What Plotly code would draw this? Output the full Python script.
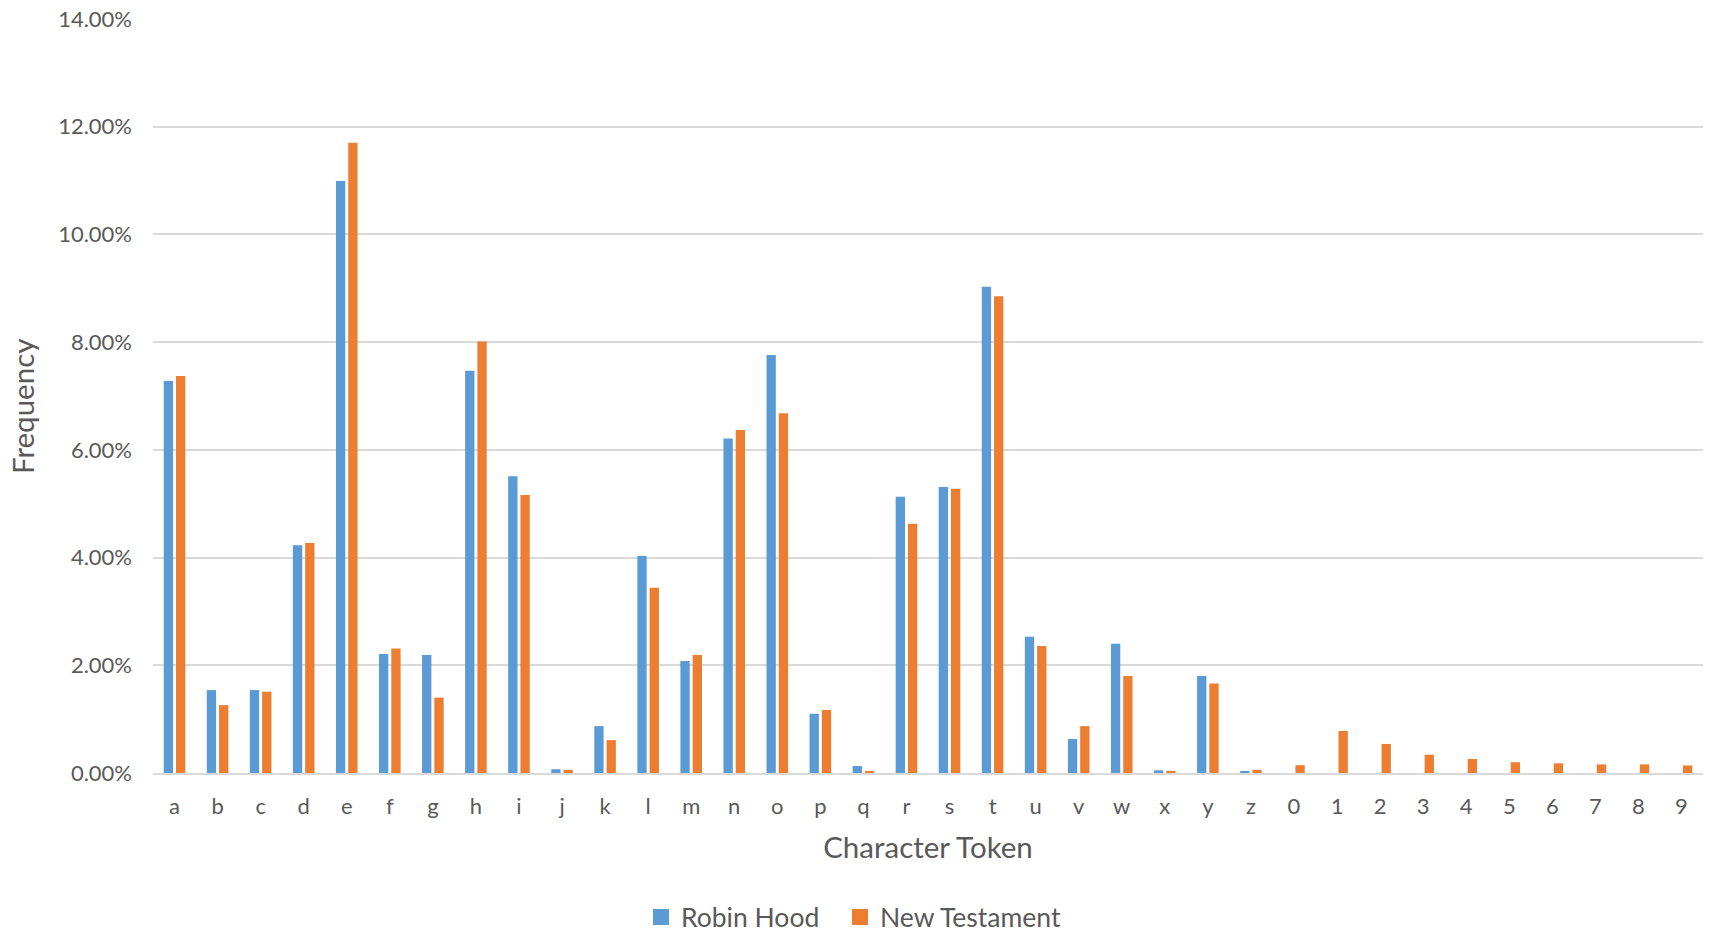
import plotly.graph_objects as go

# Character frequencies (fraction of all tokens) for two texts
tokens = list("abcdefghijklmnopqrstuvwxyz0123456789")

robin_hood = [
    0.0728, 0.0154, 0.0154, 0.0423, 0.1099, 0.0221, 0.0219, 0.0747, 0.0551,
    0.0007, 0.0087, 0.0403, 0.0208, 0.0621, 0.0776, 0.0110, 0.0013, 0.0513,
    0.0531, 0.0903, 0.0253, 0.0063, 0.0240, 0.0005, 0.0180, 0.0003,
    None, None, None, None, None, None, None, None, None, None,
]

new_testament = [
    0.0737, 0.0126, 0.0151, 0.0427, 0.1170, 0.0231, 0.0140, 0.0801, 0.0516,
    0.0006, 0.0061, 0.0344, 0.0219, 0.0637, 0.0668, 0.0117, 0.0003, 0.0463,
    0.0528, 0.0885, 0.0236, 0.0087, 0.0180, 0.0004, 0.0166, 0.0006,
    0.00145, 0.0078, 0.0054, 0.0034, 0.0026, 0.0020, 0.0018, 0.0016, 0.0016, 0.0014,
]

series_names = ["Robin Hood", "New Testament"]
colors = ["#5B9BD5", "#ED7D31"]
legend_ids = ["legend", "legend2"]

FONT = "Lato"
TEXT = "#595959"
GRID = "#D9D9D9"
W, H = 1709, 937

fig = go.Figure()
for name, vals, col, lg in zip(series_names, [robin_hood, new_testament], colors, legend_ids):
    fig.add_trace(go.Bar(
        x=tokens, y=vals, name=name,
        marker=dict(color=col, line=dict(width=0)),
        showlegend=False,
    ))
    # legend entry with a larger square swatch
    fig.add_trace(go.Scatter(
        x=[None], y=[None], mode="markers", name=name,
        marker=dict(symbol="square", size=16, color=col),
        showlegend=True, legend=lg,
    ))

legend_style = dict(
    orientation="h", xref="container", xanchor="left",
    yref="container", y=0.021, yanchor="middle",
    font=dict(size=26.5, color=TEXT), bgcolor="rgba(0,0,0,0)",
)

fig.update_layout(
    width=W, height=H,
    margin=dict(l=153, r=6, t=19, b=164),
    paper_bgcolor="white", plot_bgcolor="white",
    barmode="group", bargap=0.43, bargroupgap=0.24,
    font=dict(family=FONT, color=TEXT, size=22),
    legend=dict(legend_style, x=(655 - 14) / W),
    legend2=dict(legend_style, x=(854 - 14) / W),
    xaxis=dict(
        type="category", showgrid=False,
        showline=True, linecolor=GRID, linewidth=1.5,
        ticks="", tickfont=dict(size=22, color=TEXT),
        ticklabelstandoff=13,
        title=dict(text="Character Token", font=dict(size=29.5, color=TEXT), standoff=19),
    ),
    yaxis=dict(
        range=[0, 0.14], dtick=0.02, tickformat=".2%",
        showgrid=True, gridcolor=GRID, gridwidth=1.5,
        zeroline=False, showline=False, ticks="",
        tickfont=dict(size=22, color=TEXT),
        ticklabelstandoff=20,
    ),
)

# vertical axis title
fig.add_annotation(
    text="Frequency", textangle=-90,
    xref="paper", x=(22 - 153) / (W - 153 - 6), xanchor="center",
    yref="paper", y=(H - 164 - 407) / (H - 164 - 19), yanchor="middle",
    showarrow=False, font=dict(size=29.5, color=TEXT),
)

fig.write_html("out.html")
